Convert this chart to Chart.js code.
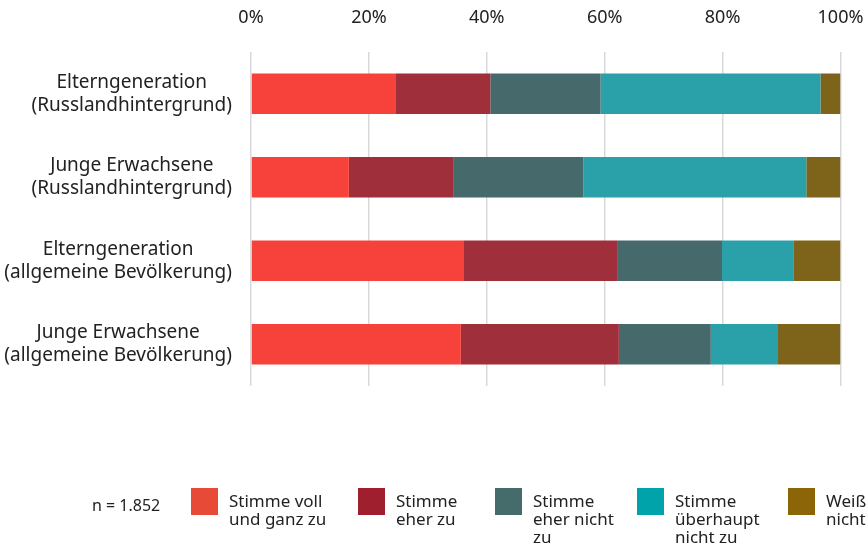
<!DOCTYPE html>
<html>
<head>
<meta charset="utf-8">
<script src="https://cdn.jsdelivr.net/npm/chart.js@4.4.1/dist/chart.umd.min.js"></script>
<style>
    html, body { margin: 0; padding: 0; background: #fff; }
    #wrap { width: 867px; height: 547px; position: relative; }
</style>
</head>
<body>
<div id="wrap"><canvas id="myChart"></canvas></div>
<script>
// categories (two-line labels)
const categories = [
    ['Elterngeneration', '(Russlandhintergrund)'],
    ['Junge Erwachsene', '(Russlandhintergrund)'],
    ['Elterngeneration', '(allgemeine Bevölkerung)'],
    ['Junge Erwachsene', '(allgemeine Bevölkerung)']
];

// series, in percent
const stimmeVoll = [24.6, 16.6, 36.0, 35.6];
const stimmeEher = [16.0, 17.8, 26.1, 26.8];
const eherNicht = [18.7, 22.0, 17.8, 15.6];
const ueberhauptNicht = [37.3, 37.8, 12.2, 11.4];
const weissNicht = [3.4, 5.8, 7.9, 10.6];

const seriesNames = ['Stimme voll und ganz zu', 'Stimme eher zu', 'Stimme eher nicht zu', 'Stimme überhaupt nicht zu', 'Weiß nicht'];
const legendLabels = [
    ['Stimme voll', 'und ganz zu'],
    ['Stimme', 'eher zu'],
    ['Stimme', 'eher nicht', 'zu'],
    ['Stimme', 'überhaupt', 'nicht zu'],
    ['Weiß', 'nicht']
];
const tickValues = [0, 20, 40, 60, 80, 100];
const sampleNote = 'n = 1.852';

const barColors = ['#f7423c', '#9e2f3b', '#466a6c', '#2aa0a8', '#7e641a'];
const legendColors = ['#e84a38', '#a01f2e', '#456b6b', '#00a3aa', '#8b6508'];
const textColor = '#222';
const fontFamily = '"Noto Sans", "Open Sans", sans-serif';

// category labels: block right-aligned to the axis, lines centred in the block
const categoryLabels = {
    id: 'categoryLabels',
    afterDraw(chart) {
        let ctx = chart.ctx,
            yScale = chart.scales.y,
            right = chart.chartArea.left - 19,
            lineHeight = 23;

        ctx.save();
        ctx.font = '19px ' + fontFamily;
        ctx.fillStyle = textColor;
        ctx.textAlign = 'center';
        ctx.textBaseline = 'middle';

        for (let i = 0; i < categories.length; i++) {
            let lines = categories[i],
                widest = Math.max(...lines.map(l => ctx.measureText(l).width)),
                cx = right - widest / 2,
                yc = yScale.getPixelForValue(i),
                y = yc - (lines.length - 1) * lineHeight / 2;

            for (let line of lines) {
                ctx.fillText(line, cx, y);
                y += lineHeight;
            }
        }
        ctx.restore();
    }
};

// bottom legend with sample size note
const bottomLegend = {
    id: 'bottomLegend',
    afterDraw(chart) {
        let ctx = chart.ctx,
            slots = [191, 358, 495, 637, 788],
            boxTop = 488,
            boxSize = 27,
            lineHeight = 18;

        ctx.save();
        ctx.fillStyle = textColor;
        ctx.font = '16px ' + fontFamily;
        ctx.textAlign = 'left';
        ctx.textBaseline = 'alphabetic';
        ctx.fillText(sampleNote, 92, 511);

        ctx.font = '17px ' + fontFamily;
        for (let i = 0; i < legendLabels.length; i++) {
            ctx.fillStyle = legendColors[i];
            ctx.fillRect(slots[i], boxTop, boxSize, boxSize);

            ctx.fillStyle = textColor;
            let y = 507;
            for (let line of legendLabels[i]) {
                ctx.fillText(line, slots[i] + 38, y);
                y += lineHeight;
            }
        }
        ctx.restore();
    }
};

const seriesData = [stimmeVoll, stimmeEher, eherNicht, ueberhauptNicht, weissNicht];

let canvas = document.getElementById('myChart');
let ctx = canvas.getContext('2d');

let chart = new Chart(ctx, {
    type: 'bar',
    data: {
        labels: categories.map(c => c.join(' ')),
        datasets: seriesNames.map((name, i) => ({
            label: name,
            data: seriesData[i],
            backgroundColor: barColors[i],
            borderWidth: 0,
            barPercentage: 0.485,
            categoryPercentage: 1
        }))
    },
    options: {
        indexAxis: 'y',
        responsive: true,
        maintainAspectRatio: false,
        animation: false,
        layout: {
            padding: { left: 251, right: 26.5, top: 7, bottom: 161 }
        },
        plugins: {
            legend: { display: false },
            tooltip: { enabled: false }
        },
        scales: {
            x: {
                position: 'top',
                stacked: true,
                min: 0,
                max: 100,
                afterBuildTicks: scale => {
                    scale.ticks = tickValues.map(v => ({ value: v }));
                },
                afterFit: scale => {
                    scale.height = 45;
                    scale.paddingLeft = 0;
                    scale.paddingRight = 0;
                },
                grid: {
                    color: 'rgba(0,0,0,0.15)',
                    lineWidth: 1.5,
                    drawTicks: false
                },
                border: { display: false },
                ticks: {
                    padding: 23,
                    color: textColor,
                    font: { family: fontFamily, size: 18 },
                    maxRotation: 0,
                    callback: v => v + '%'
                }
            },
            y: {
                stacked: true,
                display: false
            }
        }
    },
    plugins: [categoryLabels, bottomLegend]
});
</script>
</body>
</html>
